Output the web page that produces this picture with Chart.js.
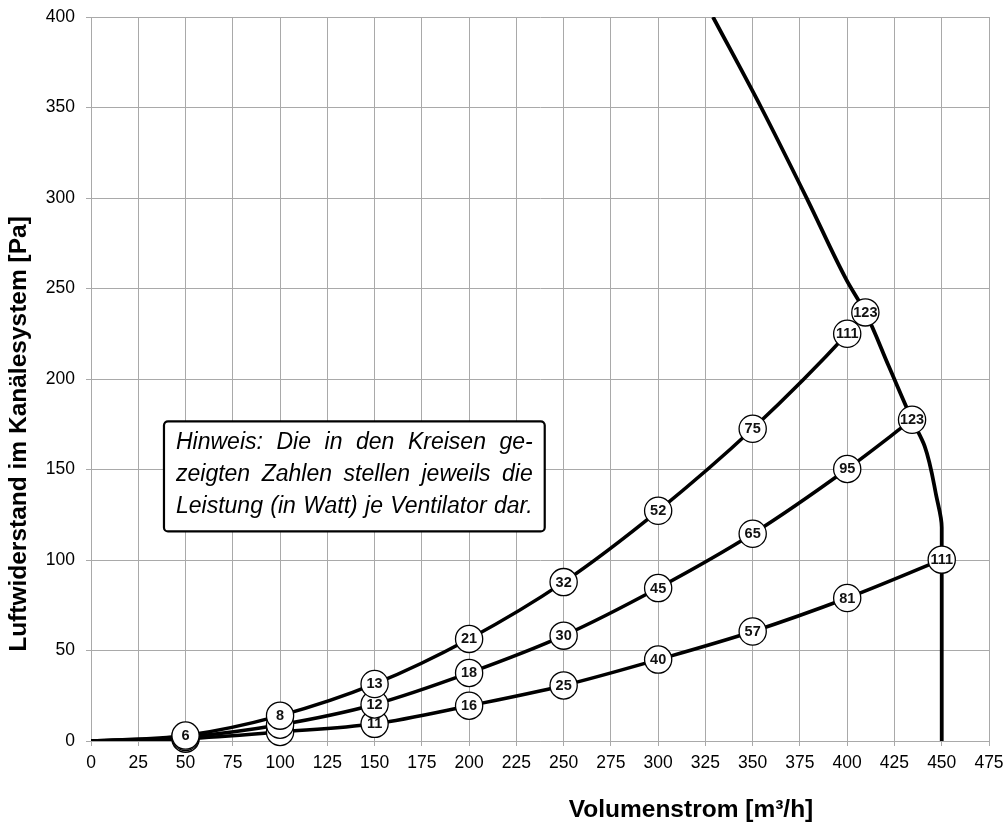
<!DOCTYPE html>
<html>
<head>
<meta charset="utf-8">
<script src="https://cdn.jsdelivr.net/npm/chart.js@4.4.0/dist/chart.umd.min.js"></script>
<style>
  html, body { margin: 0; padding: 0; background: #ffffff; }
  #wrap { width: 1003px; height: 823px; }
</style>
</head>
<body>
<div id="wrap"><canvas id="c" width="1003" height="823"></canvas></div>
<script>
// Airflow (m³/h) vs. duct pressure (Pa) for three fan speed settings
const flowLow  = [0, 50, 100, 150, 200, 250, 300, 350, 400, 450];
const pressLow = [0, 1.3, 5, 9.5, 19.5, 30.7, 45, 60.5, 79, 100.2];
const wattLow  = [null, null, null, 11, 16, 25, 40, 57, 81, 111];

const flowMid  = [0, 50, 100, 150, 200, 250, 300, 350, 400, 434.3];
const pressMid = [0, 2.2, 9, 20.2, 37.6, 58.2, 84.5, 114.5, 150.3, 177.5];
const wattMid  = [null, null, null, 12, 18, 30, 45, 65, 95, 123];

const flowHigh  = [0, 50, 100, 150, 200, 250, 300, 350, 400, 409.6];
const pressHigh = [0, 3, 14, 31.5, 56.4, 87.8, 127.2, 172.5, 225, 236.8];
const wattHigh  = [null, 6, 8, 13, 21, 32, 52, 75, 111, 123];

// Maximum fan characteristic
const flowMax  = [329, 354.5, 379, 399.6, 409.6, 422, 434.3, 441, 447.2, 450, 450, 450];
const pressMax = [400, 350, 299, 254.8, 236.8, 207, 177.5, 162.8, 135, 118, 100, 0];

const xTicks = [0, 25, 50, 75, 100, 125, 150, 175, 200, 225, 250, 275, 300, 325, 350, 375, 400, 425, 450, 475];
const yTicks = [0, 50, 100, 150, 200, 250, 300, 350, 400];

const xTitle = 'Volumenstrom [m³/h]';
const yTitle = 'Luftwiderstand im Kanälesystem [Pa]';
const noteLines = [
  'Hinweis: Die in den Kreisen ge-',
  'zeigten Zahlen stellen jeweils die',
  'Leistung (in Watt) je Ventilator dar.'
];

const FONT = '"Liberation Sans", Arial, Helvetica, sans-serif';
const GRID = '#a9a9a9';

function pts(xs, ys) { return xs.map((x, i) => ({ x: x, y: ys[i] })); }

const curveStyle = {
  borderColor: '#000', borderWidth: 3.5, pointRadius: 0, fill: false,
  cubicInterpolationMode: 'monotone'
};

// Circles with power figures, drawn over the curves, lowest curve first
const bubbles = {
  id: 'bubbles',
  afterDatasetsDraw(chart) {
    const ctx = chart.ctx;
    const labels = [wattHigh, wattMid, wattLow];
    ctx.save();
    for (const di of [2, 1, 0]) {
      const meta = chart.getDatasetMeta(di);
      meta.data.forEach((el, i) => {
        if (i === 0) return;
        ctx.beginPath();
        ctx.arc(el.x, el.y, 13.6, 0, Math.PI * 2);
        ctx.fillStyle = '#fff';
        ctx.fill();
        ctx.lineWidth = 1.3;
        ctx.strokeStyle = '#000';
        ctx.stroke();
        const t = labels[di][i];
        if (t !== null) {
          ctx.fillStyle = '#111';
          ctx.font = 'bold 14.5px ' + FONT;
          ctx.textAlign = 'center';
          ctx.textBaseline = 'middle';
          ctx.fillText(String(t), el.x, el.y + 0.5);
        }
      });
    }
    ctx.restore();
  }
};

// Note box and the two axis titles
const decorations = {
  id: 'decorations',
  afterDraw(chart) {
    const ctx = chart.ctx;
    const xs = chart.scales.x, ys = chart.scales.y;
    ctx.save();

    const bx = xs.getPixelForValue(38.6), by = ys.getPixelForValue(176.6);
    const bw = xs.getPixelForValue(240) - bx, bh = ys.getPixelForValue(115.8) - by;
    ctx.beginPath();
    ctx.roundRect(bx, by, bw, bh, 4);
    ctx.fillStyle = '#fff';
    ctx.fill();
    ctx.lineWidth = 2.2;
    ctx.strokeStyle = '#000';
    ctx.stroke();

    ctx.font = 'italic 23px ' + FONT;
    ctx.fillStyle = '#000';
    ctx.textBaseline = 'middle';
    ctx.textAlign = 'left';
    const left = bx + 12, right = bx + bw - 12;
    noteLines.forEach((line, li) => {
      const words = line.split(' ');
      const total = words.reduce((s, w) => s + ctx.measureText(w).width, 0);
      const gap = (right - left - total) / (words.length - 1);
      let x = left;
      const y = by + 21.5 + li * 31.8;
      words.forEach(w => { ctx.fillText(w, x, y); x += ctx.measureText(w).width + gap; });
    });

    ctx.font = 'bold 24.5px ' + FONT;
    ctx.fillStyle = '#000';
    ctx.textAlign = 'center';
    ctx.textBaseline = 'middle';
    ctx.fillText(xTitle, chart.chartArea.left + 600, chart.chartArea.bottom + 69);

    ctx.translate(19.5, chart.chartArea.top + 417);
    ctx.rotate(-Math.PI / 2);
    ctx.fillText(yTitle, 0, 0);
    ctx.restore();
  }
};

new Chart(document.getElementById('c'), {
  type: 'line',
  data: {
    datasets: [
      Object.assign({ data: pts(flowHigh, pressHigh) }, curveStyle),
      Object.assign({ data: pts(flowMid, pressMid) }, curveStyle),
      Object.assign({ data: pts(flowLow, pressLow) }, curveStyle),
      { data: pts(flowMax, pressMax), indexAxis: 'y', borderColor: '#000', borderWidth: 3.8,
        pointRadius: 0, fill: false, cubicInterpolationMode: 'monotone' }
    ]
  },
  options: {
    responsive: false,
    animation: false,
    devicePixelRatio: 1,
    layout: { padding: { top: 17, right: 14, left: 0, bottom: 0 } },
    plugins: { legend: { display: false }, tooltip: { enabled: false } },
    scales: {
      x: {
        type: 'linear', min: 0, max: 475,
        afterFit(s) { s.height = 82; s.paddingLeft = 0; s.paddingRight = 0; },
        afterBuildTicks(s) { s.ticks = xTicks.map(v => ({ value: v })); },
        grid: { color: GRID, lineWidth: 1, tickLength: 5 },
        border: { color: GRID, width: 1 },
        ticks: { color: '#000', font: { family: FONT, size: 17.5 }, padding: 7, maxRotation: 0, autoSkip: false }
      },
      y: {
        type: 'linear', min: 0, max: 400,
        afterFit(s) { s.width = 91; s.paddingTop = 0; s.paddingBottom = 0; },
        afterBuildTicks(s) { s.ticks = yTicks.map(v => ({ value: v })); },
        grid: { color: GRID, lineWidth: 1, tickLength: 5 },
        border: { color: GRID, width: 1 },
        ticks: { color: '#000', font: { family: FONT, size: 17.5 }, padding: 11 }
      }
    }
  },
  plugins: [bubbles, decorations]
});
</script>
</body>
</html>
